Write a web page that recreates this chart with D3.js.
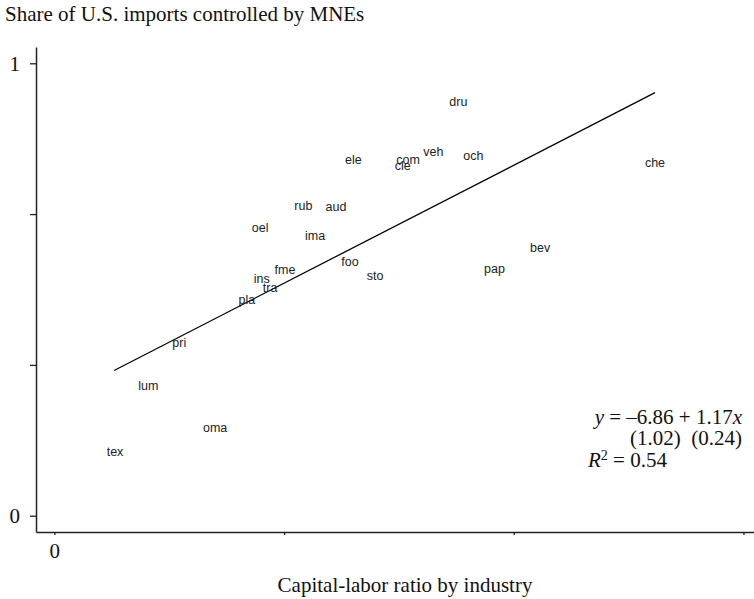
<!DOCTYPE html>
<html>
<head>
<meta charset="utf-8">
<script src="https://cdn.jsdelivr.net/npm/d3@7"></script>
<style>
  body { margin: 0; background: #fff; }
  svg { display: block; }
  .serif { font-family: "Liberation Serif", "Times New Roman", serif; }
</style>
</head>
<body>
<svg width="754" height="599"></svg>
<script>
// industries, capital-labor ratio (x) and MNE share of imports (y)
const industries = ["dru","ele","com","cle","veh","och","che","aud","rub","oel","ima",
                    "fme","foo","sto","ins","tra","pla","pri","bev","pap","lum","oma","tex"];
const capLabor = [1.759,1.302,1.540,1.517,1.650,1.824,2.615,1.226,1.084,0.896,1.135,
                  1.004,1.287,1.396,0.903,0.939,0.838,0.544,2.115,1.916,0.409,0.700,0.264];
const mneShare = [0.915,0.788,0.786,0.773,0.805,0.797,0.781,0.683,0.685,0.637,0.620,
                  0.545,0.561,0.530,0.523,0.505,0.478,0.382,0.592,0.547,0.287,0.195,0.141];

// fitted line end points
const fitX = [0.260, 2.615];
const fitY = [0.321, 0.935];

const yTicks = [0, 1/3, 2/3, 1];
const xTicks = [0, 1, 2, 3];

const svg = d3.select("svg");

const x = d3.scaleLinear().domain([-0.08, 3.046]).range([36, 754]);
const y = d3.scaleLinear().domain([-0.036, 1.036]).range([532, 47]);

// title
svg.append("text")
    .attr("class", "serif")
    .attr("x", 5)
    .attr("y", 21)
    .attr("font-size", 21)
    .attr("fill", "#111")
    .text("Share of U.S. imports controlled by MNEs");

// y axis
const yAxis = svg.append("g")
    .attr("transform", "translate(" + x.range()[0] + ",0)")
    .call(d3.axisLeft(y)
        .tickValues(yTicks)
        .tickSize(6)
        .tickSizeOuter(0)
        .tickPadding(10)
        .tickFormat(d => (d === 0 || d === 1) ? d : ""));

// x axis
const xAxis = svg.append("g")
    .attr("transform", "translate(0," + y.range()[0] + ")")
    .call(d3.axisBottom(x)
        .tickValues(xTicks)
        .tickSize(3)
        .tickSizeOuter(0)
        .tickPadding(8)
        .tickFormat(d => d === 0 ? d : ""));

[yAxis, xAxis].forEach(a => {
    a.selectAll("path.domain").attr("stroke", "#222").attr("stroke-width", 1.5);
    a.selectAll(".tick line").attr("stroke", "#222").attr("stroke-width", 1.3);
    a.selectAll(".tick text")
        .attr("font-family", "Liberation Serif, Times New Roman, serif")
        .attr("font-size", 21)
        .attr("fill", "#111");
});

// x axis title
svg.append("text")
    .attr("class", "serif")
    .attr("x", 405)
    .attr("y", 592)
    .attr("text-anchor", "middle")
    .attr("font-size", 21)
    .attr("fill", "#111")
    .text("Capital-labor ratio by industry");

// regression line
svg.append("line")
    .attr("x1", x(fitX[0]))
    .attr("y1", y(fitY[0]))
    .attr("x2", x(fitX[1]))
    .attr("y2", y(fitY[1]))
    .attr("stroke", "#000")
    .attr("stroke-width", 1.3);

// industry labels as markers
svg.append("g")
    .selectAll("text")
    .data(industries)
    .join("text")
    .attr("x", (d, i) => x(capLabor[i]))
    .attr("y", (d, i) => y(mneShare[i]))
    .attr("dy", "0.35em")
    .attr("text-anchor", "middle")
    .attr("font-family", "Liberation Sans, Arial, sans-serif")
    .attr("font-size", 12.5)
    .attr("fill", "#222")
    .text(d => d);

// equation block
const eq = svg.append("g")
    .attr("class", "serif")
    .attr("font-size", 21)
    .attr("fill", "#111");

const l1 = eq.append("text").attr("x", 742).attr("y", 424).attr("text-anchor", "end");
l1.append("tspan").attr("font-style", "italic").text("y");
l1.append("tspan").text(" = \u20136.86 + 1.17");
l1.append("tspan").attr("font-style", "italic").text("x");

eq.append("text").attr("x", 742).attr("y", 445).attr("text-anchor", "end")
    .attr("xml:space", "preserve")
    .text("(1.02)  (0.24)");

const l3 = eq.append("text").attr("x", 588).attr("y", 467);
l3.append("tspan").attr("font-style", "italic").text("R");
l3.append("tspan").attr("font-size", 14).attr("dy", -7).text("2");
l3.append("tspan").attr("dy", 7).text(" = 0.54");
</script>
</body>
</html>
